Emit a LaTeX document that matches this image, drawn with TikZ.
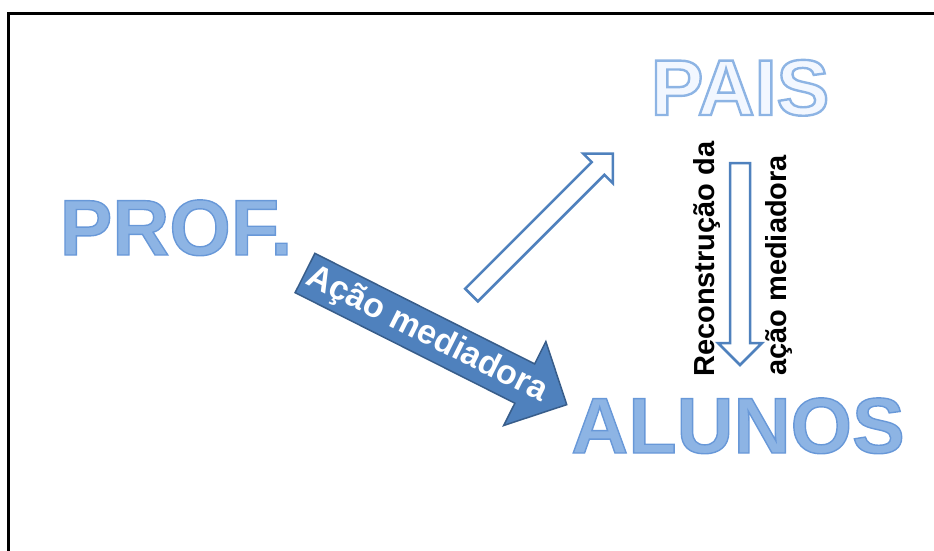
\documentclass[tikz,border=0pt]{standalone}
\usepackage{fontspec}
\setmainfont{Liberation Sans}
\definecolor{azul}{RGB}{79,129,189}
\definecolor{azulesc}{RGB}{56,93,138}
\definecolor{azulclaro}{RGB}{141,180,228}
\definecolor{quasebranco}{RGB}{242,247,255}
\newcommand{\contorno}[3]{\special{pdf:code 2 Tr #1 w #2 RG}#3\special{pdf:code 0 Tr}}
\tikzset{
  titulo/.style={font=\fontsize{79}{79}\selectfont\bfseries, inner sep=0pt, anchor=base},
  legenda/.style={font=\fontsize{29}{29}\selectfont\bfseries, inner sep=0pt, anchor=base west, rotate=90},
  setaoca/.style={draw=azul, line width=2.5pt, fill=white, line join=miter},
  setacheia/.style={draw=azulesc, line width=1.5pt, fill=azul, line join=miter}
}
\begin{document}
\begin{tikzpicture}[x=1pt,y=-1pt]
\useasboundingbox (0,0) rectangle (934,551);
\path[draw,line width=3pt] (8,580) -- (8,13.5) -- (960,13.5);
\node[titulo, text=azulclaro] (prof) at (176,255) {\contorno{1.4}{0.408 0.596 0.847}{PROF.}};
\node[titulo, text=quasebranco] (pais) at (740,115) {\contorno{2.4}{0.553 0.706 0.894}{PAIS}};
\node[titulo, text=azulclaro] (alunos) at (738,453) {\contorno{1.4}{0.408 0.596 0.847}{ALUNOS}};
\begin{scope}[shift={(305,273)}, rotate=-26.7]
\path[setacheia] (0,-22) -- (246,-22) -- (246,-47) -- (293,0) -- (246,47) -- (246,22) -- (0,22) -- cycle;
\end{scope}
\node[font=\fontsize{34}{34}\selectfont\bfseries, text=white, inner sep=0pt, rotate=-26.7] (acao) at (427,335) {Ação mediadora};
\begin{scope}[shift={(471.5,295)}, rotate=45]
\path[setaoca] (0,-9) -- (179,-9) -- (179,-21) -- (200,0) -- (179,21) -- (179,9) -- (0,9) -- cycle;
\end{scope}
\path[setaoca] (730,163) -- (750,163) -- (750,343) -- (762,343) -- (740,365) -- (718,343) -- (730,343) -- cycle;
\node[legenda] (recon) at (714,377) {Reconstrução da};
\node[legenda] (mediadora) at (786,376) {ação mediadora};
\end{tikzpicture}
\end{document}
